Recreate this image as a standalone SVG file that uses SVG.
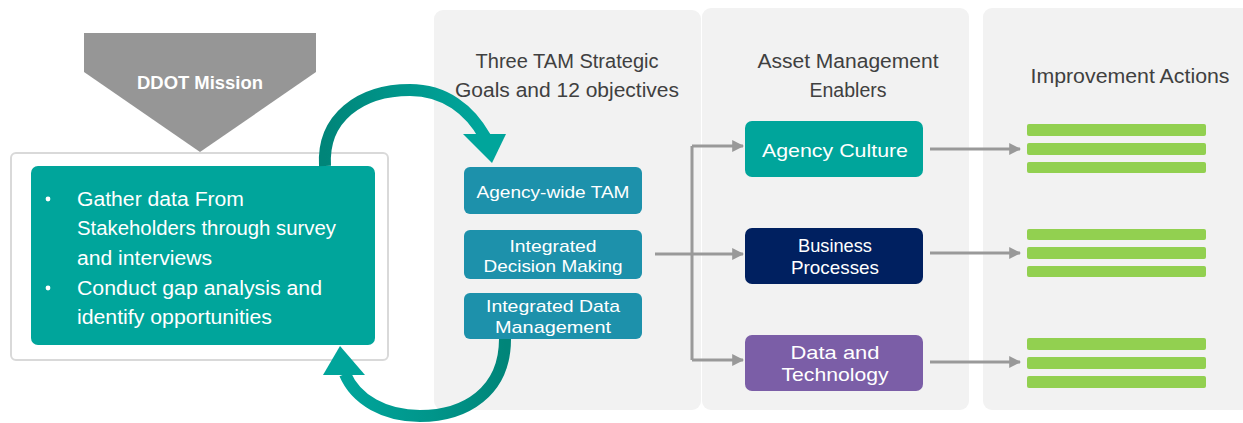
<svg xmlns="http://www.w3.org/2000/svg" width="1243" height="423" viewBox="0 0 1243 423">
<style>
text{font-family:"Liberation Sans","Open Sans",sans-serif}
.hdr{font-size:20px;fill:#404040;text-anchor:middle}
.wt{fill:#ffffff;text-anchor:middle}
.goal{fill:#1d91ab}
.bar{fill:#92d050}
.conn{stroke:#999999;stroke-width:3;fill:none}
.panel{fill:#f2f2f2}
</style>
<defs>
<marker id="ah" viewBox="0 0 10 10" refX="9" refY="5" markerWidth="4" markerHeight="4" orient="auto" markerUnits="strokeWidth">
<path d="M0,0 L10,5 L0,10 z" fill="#999999"/>
</marker>
<linearGradient id="gTop" gradientUnits="userSpaceOnUse" x1="325" y1="0" x2="480" y2="0">
<stop offset="0" stop-color="#008579"/>
<stop offset="0.45" stop-color="#00958a"/>
<stop offset="1" stop-color="#00a59b"/>
</linearGradient>
<linearGradient id="gBot" gradientUnits="userSpaceOnUse" x1="505" y1="0" x2="345" y2="0">
<stop offset="0" stop-color="#008579"/>
<stop offset="0.45" stop-color="#00958a"/>
<stop offset="1" stop-color="#00a59b"/>
</linearGradient>
</defs>
<rect width="1243" height="423" fill="#ffffff"/>
<g id="panels">
<rect class="panel" x="434" y="10" width="267" height="400" rx="9"/>
<rect class="panel" x="702" y="8" width="267" height="402" rx="9"/>
<rect class="panel" x="983" y="8" width="270" height="402" rx="9"/>
</g>
<g id="mission">
<path d="M84,33 L316,33 L316,72 L200,152 L84,72 Z" fill="#969696"/>
<text x="200" y="89" class="wt" font-size="18" font-weight="bold" textLength="126" lengthAdjust="spacingAndGlyphs">DDOT Mission</text>
</g>
<g id="gather">
<rect x="11" y="153" width="377" height="207" rx="5" fill="#ffffff" stroke="#d9d9d9" stroke-width="2"/>
<rect x="31" y="166" width="344" height="179" rx="7" fill="#00a59b"/>
<g font-size="20" fill="#ffffff">
<circle cx="48" cy="199" r="2.4" fill="#ffffff"/>
<circle cx="48" cy="288" r="2.4" fill="#ffffff"/>
<text x="77" y="206" textLength="167" lengthAdjust="spacingAndGlyphs">Gather data From</text>
<text x="77" y="235" textLength="259" lengthAdjust="spacingAndGlyphs">Stakeholders through survey</text>
<text x="77" y="265" textLength="135" lengthAdjust="spacingAndGlyphs">and interviews</text>
<text x="77" y="295" textLength="245" lengthAdjust="spacingAndGlyphs">Conduct gap analysis and</text>
<text x="77" y="324" textLength="195" lengthAdjust="spacingAndGlyphs">identify opportunities</text>
</g>
</g>
<g id="loop-arrows">
<path d="M325,166 C322,118 360,90 410,90 C445,90 470,110 485,137" fill="none" stroke="url(#gTop)" stroke-width="12"/>
<path d="M463,134 L506,134 L492,163 Z" fill="#00a59b"/>
<path d="M505,339 C505,392 465,416 420,416 C385,416 356,400 345,374" fill="none" stroke="url(#gBot)" stroke-width="12"/>
<path d="M323,375 L365,375 L340,346 Z" fill="#00a59b"/>
</g>
<g id="goals-header">
<text x="567" y="68" class="hdr" textLength="183" lengthAdjust="spacingAndGlyphs">Three TAM Strategic</text>
<text x="567" y="97" class="hdr" textLength="224" lengthAdjust="spacingAndGlyphs">Goals and 12 objectives</text>
</g>
<g id="goal-agency">
<rect class="goal" x="464" y="167" width="178" height="47" rx="6"/>
<text x="553" y="198" class="wt" font-size="17" textLength="153" lengthAdjust="spacingAndGlyphs">Agency-wide TAM</text>
</g>
<g id="goal-decision">
<rect class="goal" x="464" y="230" width="178" height="49" rx="6"/>
<text x="553" y="252" class="wt" font-size="17" textLength="87" lengthAdjust="spacingAndGlyphs">Integrated</text>
<text x="553" y="272" class="wt" font-size="17" textLength="139" lengthAdjust="spacingAndGlyphs">Decision Making</text>
</g>
<g id="goal-data">
<rect class="goal" x="464" y="293" width="178" height="46" rx="6"/>
<text x="553" y="312" class="wt" font-size="17" textLength="134" lengthAdjust="spacingAndGlyphs">Integrated Data</text>
<text x="553" y="333" class="wt" font-size="17" textLength="116" lengthAdjust="spacingAndGlyphs">Management</text>
</g>
<g id="enablers-header">
<text x="848" y="68" class="hdr" textLength="181" lengthAdjust="spacingAndGlyphs">Asset Management</text>
<text x="848" y="97" class="hdr" textLength="77" lengthAdjust="spacingAndGlyphs">Enablers</text>
</g>
<g id="enabler-culture">
<rect x="745" y="121" width="178" height="56" rx="7" fill="#00a59b"/>
<text x="835" y="157" class="wt" font-size="19" textLength="146" lengthAdjust="spacingAndGlyphs">Agency Culture</text>
</g>
<g id="enabler-business">
<rect x="745" y="228" width="178" height="56" rx="7" fill="#002060"/>
<text x="835" y="252" class="wt" font-size="19" textLength="74" lengthAdjust="spacingAndGlyphs">Business</text>
<text x="835" y="274" class="wt" font-size="19" textLength="88" lengthAdjust="spacingAndGlyphs">Processes</text>
</g>
<g id="enabler-data">
<rect x="745" y="335" width="178" height="56" rx="7" fill="#7b5ea7"/>
<text x="835" y="359" class="wt" font-size="19" textLength="89" lengthAdjust="spacingAndGlyphs">Data and</text>
<text x="835" y="381" class="wt" font-size="19" textLength="107" lengthAdjust="spacingAndGlyphs">Technology</text>
</g>
<g id="actions-header">
<text x="1130" y="83" class="hdr" textLength="199" lengthAdjust="spacingAndGlyphs">Improvement Actions</text>
</g>
<g id="actions-1">
<rect class="bar" x="1027" y="124" width="179" height="12" rx="2"/>
<rect class="bar" x="1027" y="143" width="179" height="12" rx="2"/>
<rect class="bar" x="1027" y="162" width="179" height="11" rx="2"/>
</g>
<g id="actions-2">
<rect class="bar" x="1027" y="229" width="179" height="11" rx="2"/>
<rect class="bar" x="1027" y="247" width="179" height="12" rx="2"/>
<rect class="bar" x="1027" y="266" width="179" height="11" rx="2"/>
</g>
<g id="actions-3">
<rect class="bar" x="1027" y="338" width="179" height="12" rx="2"/>
<rect class="bar" x="1027" y="357" width="179" height="12" rx="2"/>
<rect class="bar" x="1027" y="376" width="179" height="12" rx="2"/>
</g>
<g id="connectors">
<path class="conn" d="M655,254 L692,254"/>
<path class="conn" d="M692,146 L692,360"/>
<path class="conn" d="M692,146 L743,146" marker-end="url(#ah)"/>
<path class="conn" d="M692,254 L743,254" marker-end="url(#ah)"/>
<path class="conn" d="M692,360 L743,360" marker-end="url(#ah)"/>
<path class="conn" d="M930,149 L1020,149" marker-end="url(#ah)"/>
<path class="conn" d="M930,253 L1020,253" marker-end="url(#ah)"/>
<path class="conn" d="M930,362 L1020,362" marker-end="url(#ah)"/>
</g>
</svg>
